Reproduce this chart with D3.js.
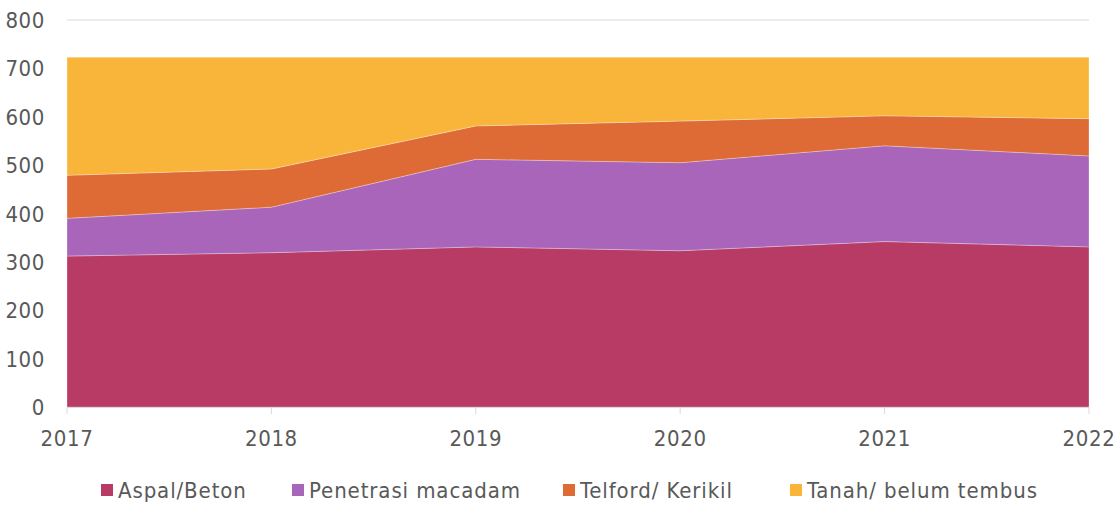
<!DOCTYPE html>
<html>
<head>
<meta charset="utf-8">
<script src="https://cdn.jsdelivr.net/npm/d3@7"></script>
<style>
  body { margin: 0; background: #fff; }
  text { font-family: "DejaVu Sans Condensed", "DejaVu Sans", sans-serif; fill: #595959; }
</style>
</head>
<body>
<script>
const years = [2017, 2018, 2019, 2020, 2021, 2022];
const aspal = [312, 319, 331, 323, 342, 331];
const penetrasi = [78, 94, 181, 182, 198, 188];
const telford = [89, 79, 69, 86, 62, 77];
const tanah = [244, 231, 142, 132, 121, 127];
const seriesNames = ["Aspal/Beton", "Penetrasi macadam", "Telford/ Kerikil", "Tanah/ belum tembus"];
const yTicks = [0, 100, 200, 300, 400, 500, 600, 700, 800];
const colors = ["#B83B66", "#A865BA", "#DE6B35", "#F8B53A"];

const W = 1115, H = 507;
const svg = d3.select("body").append("svg").attr("width", W).attr("height", H);

const x = d3.scaleLinear().domain([2017, 2022]).range([67, 1089]);
const y = d3.scaleLinear().domain([0, 800]).range([407, 20]);

// build rows for stack
const keys = ["a", "p", "t", "n"];
const rows = years.map((yr, i) => ({ year: yr, a: aspal[i], p: penetrasi[i], t: telford[i], n: tanah[i] }));
const stacked = d3.stack().keys(keys)(rows);

// gridlines
svg.append("g").selectAll("line")
  .data(yTicks.filter(d => d > 0))
  .enter().append("line")
  .attr("x1", 67).attr("x2", 1089)
  .attr("y1", d => y(d)).attr("y2", d => y(d))
  .attr("stroke", "#d9d9d9").attr("stroke-width", 1);

const area = d3.area()
  .x(d => x(d.data.year))
  .y0(d => y(d[0]))
  .y1(d => y(d[1]));

svg.append("g").selectAll("path")
  .data(stacked)
  .enter().append("path")
  .attr("d", area)
  .attr("fill", (d, i) => colors[i])
  .attr("stroke", "rgba(255,255,255,0.35)")
  .attr("stroke-width", 0.8);

// x axis
const xAxis = svg.append("g").attr("transform", "translate(0,407)");
xAxis.append("line").attr("x1", 67).attr("x2", 1089).attr("y1", 0.5).attr("y2", 0.5)
  .attr("stroke", "#d9d9d9");
xAxis.selectAll("line.tick").data(years).enter().append("line")
  .attr("class", "tick")
  .attr("x1", d => x(d)).attr("x2", d => x(d))
  .attr("y1", 0).attr("y2", 7)
  .attr("stroke", "#d9d9d9");
xAxis.selectAll("text").data(years).enter().append("text")
  .attr("x", d => x(d)).attr("y", 39)
  .attr("text-anchor", "middle")
  .attr("font-size", 22)
  .attr("letter-spacing", 0.6)
  .text(d => d);

// y axis labels
svg.append("g").selectAll("text")
  .data(yTicks)
  .enter().append("text")
  .attr("x", 45).attr("y", d => y(d) + 8)
  .attr("text-anchor", "end")
  .attr("font-size", 22)
  .attr("letter-spacing", 0.6)
  .text(d => d);

// legend
const legendX = [101, 292, 563, 790];
const leg = svg.append("g").selectAll("g")
  .data(seriesNames)
  .enter().append("g")
  .attr("transform", (d, i) => `translate(${legendX[i]},0)`);
leg.append("rect").attr("x", 0).attr("y", 484).attr("width", 12).attr("height", 12)
  .attr("fill", (d, i) => colors[i]);
leg.append("text").attr("x", 17).attr("y", 498)
  .attr("font-size", 22)
  .attr("letter-spacing", 0.9)
  .text(d => d);
</script>
</body>
</html>
